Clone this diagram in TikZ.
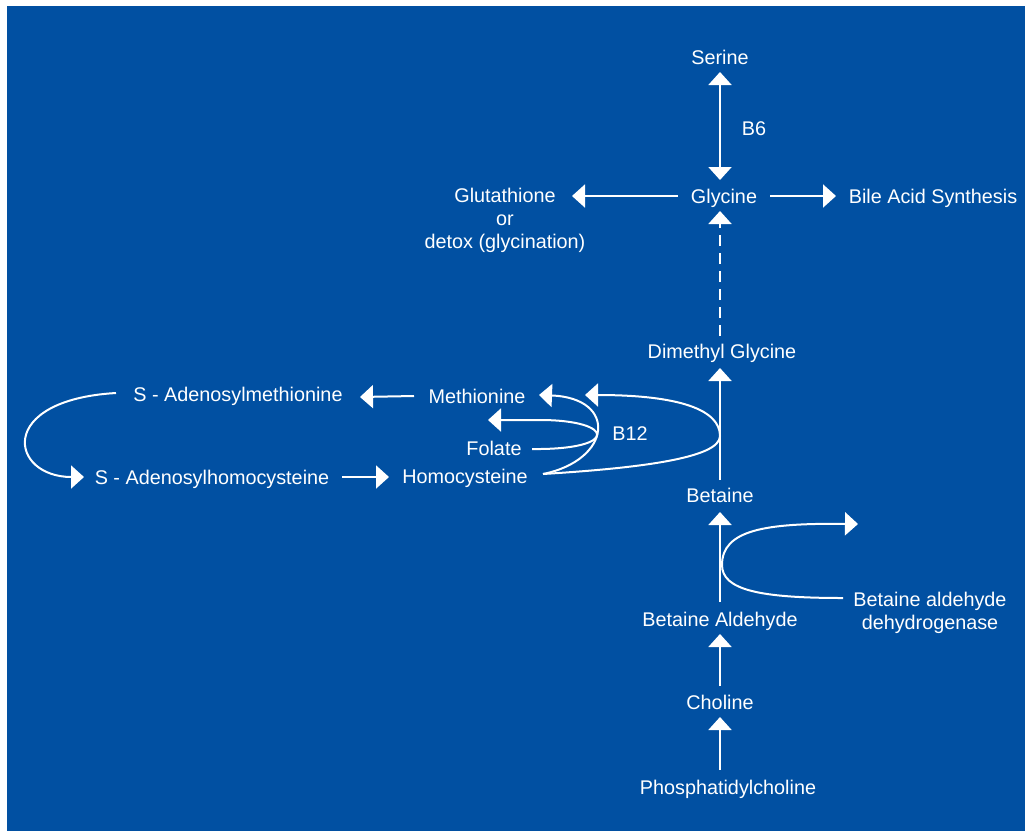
\documentclass[tikz,border=0pt]{standalone}
\usepackage{fontspec}
\setmainfont{Liberation Sans}
\usetikzlibrary{arrows.meta,calc}
\definecolor{bgblue}{RGB}{1,80,162}
\begin{document}
\begin{tikzpicture}[x=1pt,y=-1pt,
  lbl/.style={text=white,inner sep=0pt,font=\fontsize{19.8}{23}\selectfont,text height=14.2pt,text depth=0pt},
  mlbl/.style={text=white,inner sep=0pt,font=\fontsize{19.8}{23}\selectfont,align=center,anchor=north},
  conn/.style={draw=white,line width=2pt},
  tipw/.style={Triangle[length=13pt,width=23pt]},
  arr/.style={conn,-{Triangle[length=13pt,width=23pt]}},
  darr/.style={conn,{Triangle[length=13pt,width=23pt]}-{Triangle[length=13pt,width=23pt]}},
  dsh/.style={dash pattern=on 11pt off 7pt}
]
\useasboundingbox (0,0) rectangle (1025,831);
\fill[bgblue] (7,6) rectangle (1025,831);

% nodes
\node[lbl] (ser)  at (720,57)  {Serine};
\node[lbl] (b6)   at (754,128) {B6};
\node[lbl] (gly)  at (724,196) {Glycine};
\node[lbl] (bile) at (933,196) {Bile Acid Synthesis};
\node[mlbl] (glu) at (505,188) {Glutathione\\or\\detox (glycination)};
\node[lbl] (dmg)  at (722,351) {Dimethyl Glycine};
\node[lbl] (met)  at (477,396) {Methionine};
\node[lbl] (sam)  at (238,394) {S - Adenosylmethionine};
\node[lbl] (fol)  at (494,448) {Folate};
\node[lbl] (b12)  at (630,433) {B12};
\node[lbl] (sah)  at (212,477) {S - Adenosylhomocysteine};
\node[lbl] (hcy)  at (465,476) {Homocysteine};
\node[lbl] (bet)  at (720,495) {Betaine};
\node[lbl] (bald) at (720,619) {Betaine Aldehyde};
\node[mlbl] (badh) at (930,592) {Betaine aldehyde\\dehydrogenase};
\node[lbl] (cho)  at (720,702) {Choline};
\node[lbl] (pc)   at (728,787) {Phosphatidylcholine};

% vertical column
\draw[darr] ($(ser)+(0,15)$) -- ($(ser |- gly)+(0,-16)$);
\draw[conn,dsh] ($(ser |- dmg)+(0,-15)$) -- ($(ser |- gly)+(0,27)$);
\draw[arr] ($(ser |- gly)+(0,26)$) -- ($(ser |- gly)+(0,15)$);
\draw[arr] ($(bet)+(0,-15)$) -- ($(bet |- dmg)+(0,17)$);
\draw[arr] ($(bald)+(0,-17)$) -- ($(bet)+(0,17)$);
\draw[arr] ($(cho)+(0,-16)$) -- ($(bald)+(0,15)$);
\draw[arr] ($(cho |- pc)+(0,-17)$) -- ($(cho)+(0,15)$);

% glycine branches
\draw[arr] ($(gly)+(-46,0)$) -- ($(glu.north |- gly)+(67,0)$);
\draw[arr] ($(gly)+(46,0)$) -- ($(bile)+(-97,0)$);

% betaine aldehyde dehydrogenase
\coordinate (badhtip) at ($(badh.north)+(-72,-68)$);
\draw[arr] ($(badh.north)+(-87,6)$) .. controls +(-83,0) and +(0,25) .. ($(bald)+(2,-54)$)
   .. controls +(0,-35) and +(-93,-1) .. (badhtip);

% methionine cycle
\draw[arr] ($(met)+(-63,0)$) -- ($(sam |- met)+(122,1)$);
\draw[arr] ($(sam)+(-122,-1)$) .. controls +(-121,7) and +(-74,0) .. ($(sah)+(-128,0)$);
\draw[arr] ($(sah)+(130,0)$) -- ($(sah -| hcy)+(-76,0)$);
\draw[arr] ($(hcy)+(78,-2)$) .. controls +(69,-14) and +(79,3) .. ($(met)+(62,-1)$);
\coordinate (foltip) at ($(fol)+(-6,-28)$);
\draw[arr] ($(fol)+(38,1)$) .. controls +(88,1) and +(75,0) .. ($(fol)+(46,-28)$) -- (foltip);
\draw[arr] ($(hcy)+(78,-2)$) .. controls +(97,-6) and +(0,22) .. ($(bet)+(0,-59)$)
   .. controls +(0,-26) and +(95,0) .. ($(met)+(108,-1)$);
\end{tikzpicture}
\end{document}
